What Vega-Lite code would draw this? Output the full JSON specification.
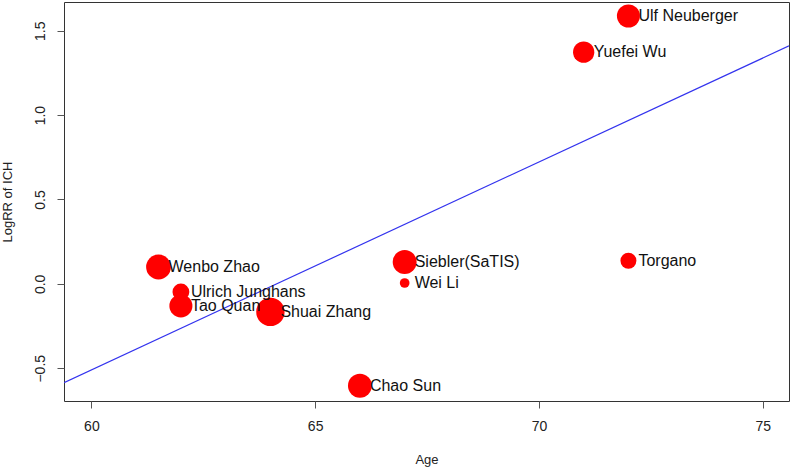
{
  "$schema": "https://vega.github.io/schema/vega-lite/v6.json",
  "width": 725,
  "height": 399,
  "autosize": "none",
  "padding": {"left": 64, "top": 2, "right": 3, "bottom": 68},
  "background": "white",
  "config": {
    "view": {"stroke": "#333333", "strokeWidth": 1},
    "font": "Liberation Sans"
  },
  "datasets": {
    "studies": [
      {"study": "Ulf Neuberger", "Age": 72, "logRR": 1.587, "weight": 169},
      {"study": "Yuefei Wu", "Age": 71, "logRR": 1.373, "weight": 144},
      {"study": "Torgano", "Age": 72, "logRR": 0.137, "weight": 81},
      {"study": "Siebler(SaTIS)", "Age": 67, "logRR": 0.13, "weight": 182},
      {"study": "Wei Li", "Age": 67, "logRR": 0.005, "weight": 30},
      {"study": "Wenbo Zhao", "Age": 61.5, "logRR": 0.1, "weight": 196},
      {"study": "Ulrich Junghans", "Age": 62, "logRR": -0.048, "weight": 90},
      {"study": "Tao Quan", "Age": 62, "logRR": -0.131, "weight": 169},
      {"study": "Shuai Zhang", "Age": 64, "logRR": -0.166, "weight": 256},
      {"study": "Chao Sun", "Age": 66, "logRR": -0.604, "weight": 182}
    ],
    "fit": [
      {"Age": 59.388, "logRR": -0.585},
      {"Age": 75.588, "logRR": 1.41}
    ]
  },
  "encoding": {
    "x": {
      "field": "Age", "type": "quantitative",
      "scale": {"domain": [59.388, 75.588], "nice": false, "zero": false},
      "axis": {
        "title": "Age", "values": [60, 65, 70, 75], "grid": false, "domain": false,
        "tickColor": "#555555", "tickSize": 7, "labelFontSize": 14, "labelColor": "#222222",
        "labelPadding": 11, "titleFontSize": 13, "titleFontWeight": "normal", "titleColor": "#222222",
        "titlePadding": 20
      }
    },
    "y": {
      "field": "logRR", "type": "quantitative",
      "scale": {"domain": [-0.694, 1.67], "nice": false, "zero": false},
      "axis": {
        "title": "LogRR of ICH", "values": [-0.5, 0, 0.5, 1, 1.5], "format": ".1f", "grid": false, "domain": false,
        "tickColor": "#555555", "tickSize": 7, "labelFontSize": 14, "labelColor": "#222222",
        "labelAngle": -90, "labelAlign": "center", "labelBaseline": "alphabetic", "labelPadding": 13,
        "titleFontSize": 13, "titleFontWeight": "normal", "titleColor": "#222222", "titlePadding": 19
      }
    }
  },
  "layer": [
    {
      "data": {"name": "fit"},
      "mark": {"type": "line", "color": "#3333ee", "strokeWidth": 1.2, "clip": true},
      "encoding": {}
    },
    {
      "data": {"name": "studies"},
      "mark": {"type": "circle", "color": "#ff0000", "opacity": 1},
      "encoding": {
        "size": {"field": "weight", "type": "quantitative", "scale": {"domain": [0, 256], "range": [0, 804]}, "legend": null}
      }
    },
    {
      "data": {"name": "studies"},
      "mark": {"type": "text", "align": "left", "baseline": "middle", "dx": 10, "fontSize": 16, "color": "#111111"},
      "encoding": {"text": {"field": "study"}}
    }
  ]
}
